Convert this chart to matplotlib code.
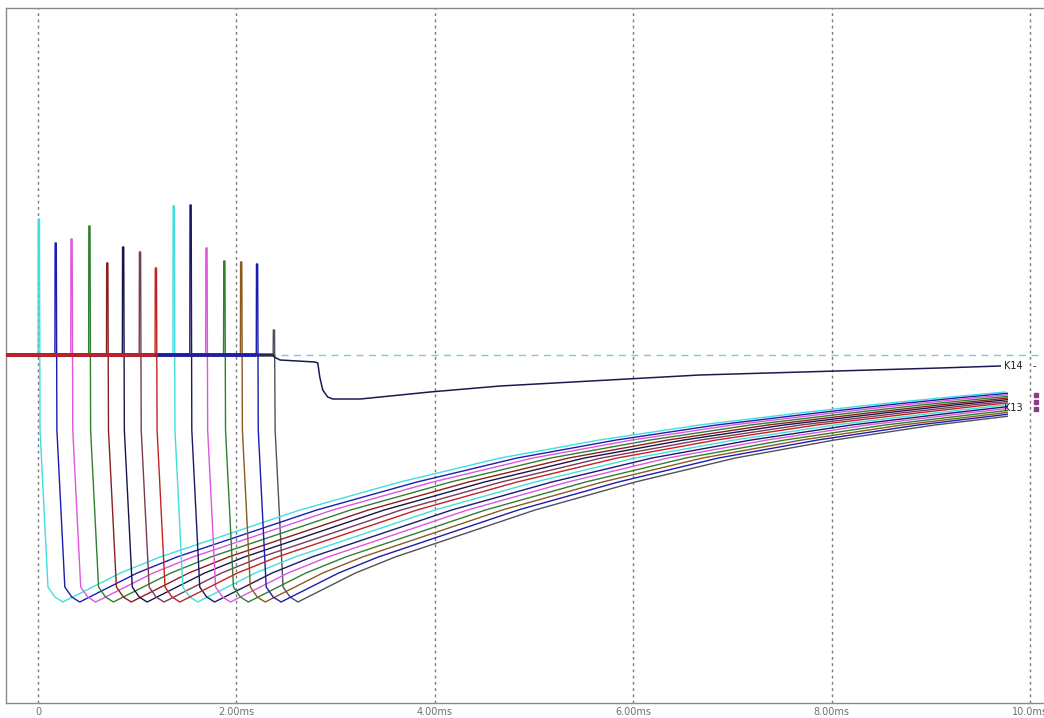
import matplotlib.pyplot as plt
from matplotlib.patches import Rectangle

# ==========================================================
# DATA (time in ms, voltage in arbitrary units, baseline = 0)
# ==========================================================

spike_times = [0.00, 0.17, 0.33, 0.51, 0.69, 0.85, 1.02, 1.18,
               1.36, 1.53, 1.69, 1.87, 2.04, 2.20, 2.37]
spike_peaks = [1.36, 1.12, 1.16, 1.29, 0.92, 1.08, 1.03, 0.87,
               1.49, 1.50, 1.07, 0.94, 0.93, 0.91, 0.25]

shape_dt = [0.02, 0.10, 0.17, 0.25, 0.49, 0.83, 1.23, 2.64,
            3.65, 4.66, 5.66, 6.67, 7.68, 8.39, 9.09, 9.75]
shape_v = [-0.75, -2.32, -2.42, -2.47, -2.35, -2.18, -2.02, -1.55,
           -1.27, -1.03, -0.85, -0.70, -0.58, -0.50, -0.43, -0.37]

# K14 trace
k14_t = [-0.35, 2.37, 2.38, 2.44, 2.79, 2.82, 2.84, 2.87, 2.92, 2.97,
         3.25, 3.95, 4.66, 6.67, 9.09, 9.70]
k14_v = [0.00, 0.00, -0.02, -0.05, -0.07, -0.08, -0.22, -0.35, -0.42, -0.44,
         -0.44, -0.37, -0.31, -0.20, -0.13, -0.11]

tick_pos = [0, 2, 4, 6, 8, 10]
tick_labels = ["0", "2.00ms", "4.00ms", "6.00ms", "8.00ms", "10.0ms"]

T_START = -0.35
T_END = 9.78

# ==========================================================
# STYLE
# ==========================================================

colors = ["#40dede", "#1c1cb0", "#e055e0", "#2f7f2f", "#8b1e1e",
          "#16164e", "#7a3a5a", "#c42222", "#40dede", "#1a1a6a",
          "#e055e0", "#2f7f2f", "#8a5a20", "#1c1cb0", "#505060"]
zorders = [3, 3, 3, 3, 3, 3, 3, 6, 3, 3, 3, 3, 3, 5, 2]

fig = plt.figure(figsize=(10.44, 7.18), dpi=100)
ax = fig.add_axes([6 / 1044, 15 / 718, 1038 / 1044, 695 / 718])

XMIN, XMAX = -0.323, 10.141
ax.set_xlim(XMIN, XMAX)
ax.set_ylim(-3.48, 3.47)

# traces stop where the simulation ends
clip = Rectangle((XMIN, -3.48), T_END - XMIN, 6.95, transform=ax.transData)

# baseline cursor
ax.axhline(0, color="#7cc8e0", linestyle=(0, (5, 4)), linewidth=1, zorder=1)

# ==========================================================
# TRACES
# ==========================================================

for ts, pk, c, z in zip(spike_times, spike_peaks, colors, zorders):
    t = [T_START, ts, ts + 0.002, ts + 0.014] + [ts + d for d in shape_dt]
    v = [0, 0, pk, pk] + shape_v
    ln, = ax.plot(t, v, color=c, linewidth=1.0, zorder=z)
    ln.set_clip_path(clip)
    # thick resting level before the spike
    ax.plot([T_START, ts], [0, 0], color=c, linewidth=2.6, zorder=z,
            solid_capstyle="butt")

ax.plot(k14_t, k14_v, color="#1a1a50", linewidth=1.1, zorder=4)

ax.text(9.74, -0.11, "K14", fontsize=7, color="#202020", va="center")
ax.text(10.03, -0.11, "-", fontsize=7, color="#202020", va="center")
ax.text(9.74, -0.53, "K13", fontsize=7, color="#202020", va="center")
ax.plot([10.06, 10.06, 10.06], [-0.40, -0.47, -0.54], marker="s",
        markersize=3, linestyle="none", color="#8a3a8a")

# ==========================================================
# AXES
# ==========================================================

for x in tick_pos:
    ax.axvline(x, color="#7a7a7a", linestyle=(0, (2, 2.5)), linewidth=1,
               zorder=0)

ax.set_xticks(tick_pos)
ax.set_xticklabels(tick_labels, fontsize=7, color="#707070")
ax.set_yticks([])
ax.tick_params(axis="x", length=0, pad=3)

for side in ["left", "top", "bottom"]:
    ax.spines[side].set_color("#8a8a8a")
    ax.spines[side].set_linewidth(1)
ax.spines["right"].set_visible(False)

fig.savefig("out.png", dpi=100)
